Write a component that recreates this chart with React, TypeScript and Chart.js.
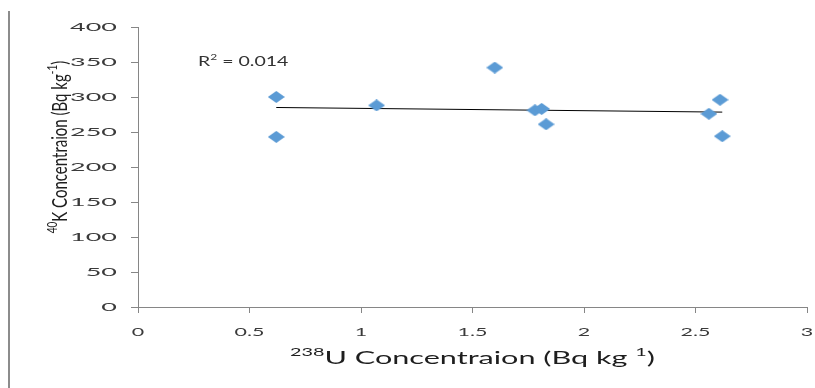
import { useEffect, useRef } from "react";
import { Chart, registerables } from "chart.js";

Chart.register(...registerables);

// ---- Data ----
const uranium238 = [0.62, 0.62, 1.07, 1.6, 1.78, 1.81, 1.83, 2.56, 2.61, 2.62];
const potassium40 = [300, 243, 288, 342, 281, 283, 261, 276, 296, 244];
const xTickValues = [0, 0.5, 1, 1.5, 2, 2.5, 3];
const yTickValues = [0, 50, 100, 150, 200, 250, 300, 350, 400];
const rSquaredText = "0.014";

const FONT = "Lato, 'Open Sans', sans-serif";

type Seg = { t: string; sup?: boolean };

function linearFit(xs: number[], ys: number[]) {
  const n = xs.length;
  const mx = xs.reduce((a, b) => a + b, 0) / n;
  const my = ys.reduce((a, b) => a + b, 0) / n;
  let sxy = 0;
  let sxx = 0;
  for (let i = 0; i < n; i++) {
    sxy += (xs[i] - mx) * (ys[i] - my);
    sxx += (xs[i] - mx) * (xs[i] - mx);
  }
  const slope = sxy / sxx;
  return { slope, intercept: my - slope * mx };
}

function makeDiamond(): HTMLCanvasElement {
  const c = document.createElement("canvas");
  c.width = 17;
  c.height = 12;
  const g = c.getContext("2d")!;
  g.fillStyle = "#5b9bd5";
  g.beginPath();
  g.moveTo(8.5, 0);
  g.lineTo(17, 6);
  g.lineTo(8.5, 12);
  g.lineTo(0, 6);
  g.closePath();
  g.fill();
  return c;
}

function drawRich(
  ctx: CanvasRenderingContext2D,
  segs: Seg[],
  size: number,
  align: "left" | "center"
) {
  const main = `${size}px ${FONT}`;
  const sup = `${Math.round(size * 0.65)}px ${FONT}`;
  let w = 0;
  for (const s of segs) {
    ctx.font = s.sup ? sup : main;
    w += ctx.measureText(s.t).width;
  }
  let x = align === "center" ? -w / 2 : 0;
  ctx.textAlign = "left";
  ctx.textBaseline = "middle";
  for (const s of segs) {
    ctx.font = s.sup ? sup : main;
    ctx.fillText(s.t, x, s.sup ? -size * 0.38 : 0);
    x += ctx.measureText(s.t).width;
  }
}

export default function App() {
  const ref = useRef<HTMLCanvasElement | null>(null);

  useEffect(() => {
    if (!ref.current) return;
    const fit = linearFit(uranium238, potassium40);
    const xmin = Math.min(...uranium238);
    const xmax = Math.max(...uranium238);

    const textPlugin = {
      id: "excelText",
      afterDraw(chart: any) {
        const ctx: CanvasRenderingContext2D = chart.ctx;
        const xs = chart.scales.x;
        const ys = chart.scales.y;
        ctx.save();
        // left border line
        ctx.strokeStyle = "#8c8c8c";
        ctx.lineWidth = 2;
        ctx.beginPath();
        ctx.moveTo(9, 11);
        ctx.lineTo(9, 388);
        ctx.stroke();

        // y tick labels
        ctx.fillStyle = "#3a3a3a";
        for (const v of yTickValues) {
          ctx.save();
          ctx.translate(117, ys.getPixelForValue(v));
          ctx.scale(2.45, 1);
          ctx.font = `11px ${FONT}`;
          ctx.textAlign = "right";
          ctx.textBaseline = "middle";
          ctx.fillText(String(v), 0, 0);
          ctx.restore();
        }
        // x tick labels
        for (const v of xTickValues) {
          ctx.save();
          ctx.translate(xs.getPixelForValue(v), 332);
          ctx.scale(1.95, 1);
          ctx.textAlign = "center";
          ctx.textBaseline = "middle";
          ctx.font = `11px ${FONT}`;
          ctx.fillText(String(v), 0, 0);
          ctx.restore();
        }

        // x title
        ctx.fillStyle = "#1e1e1e";
        ctx.save();
        ctx.translate((chart.chartArea.left + chart.chartArea.right) / 2, 359);
        ctx.scale(1.8, 1);
        drawRich(
          ctx,
          [
            { t: "238", sup: true },
            { t: "U Concentraion (Bq kg " },
            { t: "1", sup: true },
            { t: ")" },
          ],
          17,
          "center"
        );
        ctx.restore();

        // y title
        ctx.save();
        ctx.translate(60, 147);
        ctx.rotate(-Math.PI / 2);
        ctx.scale(1, 1.4);
        drawRich(
          ctx,
          [
            { t: "40", sup: true },
            { t: "K Concentraion (Bq kg" },
            { t: "-1", sup: true },
            { t: ")" },
          ],
          15,
          "center"
        );
        ctx.restore();

        // R² label
        ctx.fillStyle = "#333333";
        ctx.save();
        ctx.translate(198, 62);
        ctx.scale(1.5, 1);
        drawRich(
          ctx,
          [
            { t: "R" },
            { t: "2", sup: true },
            { t: " = " + rSquaredText },
          ],
          13,
          "left"
        );
        ctx.restore();
        ctx.restore();
      },
    };

    const chart = new Chart(ref.current, {
      type: "scatter",
      data: {
        datasets: [
          {
            type: "scatter",
            label: "K-40 vs U-238",
            data: uranium238.map((x, i) => ({ x, y: potassium40[i] })),
            pointStyle: makeDiamond() as any,
            pointRadius: 7,
            pointHoverRadius: 7,
          },
          {
            type: "line",
            label: "Linear trend",
            data: [
              { x: xmin, y: fit.intercept + fit.slope * xmin },
              { x: xmax, y: fit.intercept + fit.slope * xmax },
            ],
            borderColor: "#000000",
            borderWidth: 1,
            pointRadius: 0,
            fill: false,
          } as any,
        ],
      },
      options: {
        animation: false,
        responsive: true,
        maintainAspectRatio: false,
        layout: { padding: { left: 0, top: 27, right: 4, bottom: 0 } },
        plugins: {
          legend: { display: false },
          tooltip: { enabled: false },
        },
        scales: {
          x: {
            type: "linear",
            min: 0,
            max: 3,
            ticks: { display: false, stepSize: 0.5 },
            grid: {
              drawOnChartArea: false,
              drawTicks: true,
              tickLength: 6,
              color: "#868686",
            },
            border: { display: true, color: "#868686", width: 1 },
            afterFit: (s: any) => {
              s.height = 81;
            },
          },
          y: {
            type: "linear",
            min: 0,
            max: 400,
            ticks: { display: false, stepSize: 50 },
            grid: {
              drawOnChartArea: false,
              drawTicks: true,
              tickLength: 7,
              color: "#868686",
            },
            border: { display: true, color: "#868686", width: 1 },
            afterFit: (s: any) => {
              s.width = 138;
            },
          },
        },
      },
      plugins: [textPlugin],
    });
    return () => chart.destroy();
  }, []);

  return (
    <div
      style={{
        position: "fixed",
        left: 0,
        top: 0,
        width: 815,
        height: 388,
        background: "#ffffff",
      }}
    >
      <canvas ref={ref} />
    </div>
  );
}
